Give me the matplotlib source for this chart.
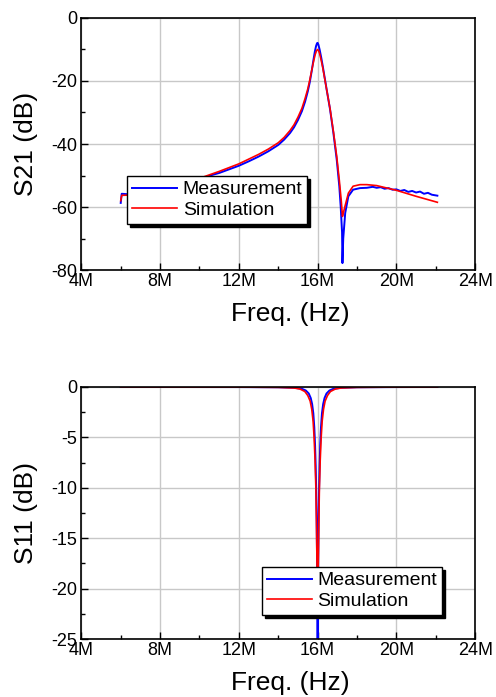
import numpy as np
import matplotlib.pyplot as plt
from matplotlib.ticker import MultipleLocator, FuncFormatter

plt.rcParams['font.family'] = ['Liberation Sans', 'DejaVu Sans']
plt.rcParams['axes.unicode_minus'] = False

# S21 measurement (MHz, dB)
s21_meas_f = [6.0, 6.05, 6.5, 7.0, 8.0, 9.0, 10.0, 10.54, 11.0, 12.0, 12.5, 13.0, 13.5,
              14.0, 14.3, 14.6, 14.8, 15.0, 15.2, 15.36, 15.5, 15.6, 15.7, 15.78,
              15.86, 15.92, 15.97, 16.0, 16.04, 16.1, 16.18, 16.26, 16.46, 16.63,
              16.8, 16.97, 17.1, 17.17, 17.24, 17.26, 17.3, 17.4, 17.56, 17.8, 18.15,
              18.5, 18.8, 19.0, 19.2, 19.4, 19.6, 19.8, 20.0, 20.2, 20.4, 20.6, 20.8,
              21.0, 21.2, 21.4, 21.6, 21.8, 22.08]
s21_meas_db = [-58.7, -55.8, -56.0, -55.6, -54.5, -53.0, -51.3, -50.0, -49.2, -46.9,
               -45.5, -44.0, -42.3, -40.3, -38.6, -36.5, -34.7, -32.4, -29.6, -26.6,
               -23.3, -20.4, -16.8, -13.6, -10.6, -8.9, -8.0, -7.9, -8.5, -10.0,
               -12.5, -15.3, -22.8, -29.0, -36.5, -45.0, -53.4, -59.8, -68.0, -77.8,
               -70.0, -61.9, -56.6, -54.5, -54.0, -53.9, -53.6, -53.9, -53.7, -54.2,
               -54.0, -54.5, -54.4, -54.9, -54.6, -55.2, -54.9, -55.4, -55.1, -55.8,
               -55.5, -56.1, -56.4]

# S21 simulation (MHz, dB)
s21_sim_f = [6.0, 6.05, 6.5, 7.0, 8.0, 9.0, 10.0, 11.0, 12.0, 12.5, 13.0, 13.5, 14.0,
             14.3, 14.6, 14.8, 15.0, 15.2, 15.36, 15.5, 15.6, 15.7, 15.8, 15.88,
             15.95, 16.0, 16.05, 16.1, 16.18, 16.26, 16.46, 16.63, 16.8, 16.97,
             17.1, 17.2, 17.26, 17.32, 17.4, 17.56, 17.8, 18.15, 18.5, 19.0, 20.0,
             21.0, 22.08]
s21_sim_db = [-58.0, -56.3, -56.2, -55.6, -54.3, -52.7, -50.9, -48.7, -46.3, -44.8,
              -43.3, -41.6, -39.6, -37.9, -35.7, -33.9, -31.5, -28.7, -25.6, -22.5,
              -19.7, -16.6, -13.6, -11.5, -10.3, -10.0, -10.4, -11.3, -13.4, -15.8,
              -22.8, -28.8, -36.0, -44.0, -51.5, -58.0, -63.0, -61.5, -59.5, -55.6,
              -53.4, -52.9, -52.9, -53.2, -54.7, -56.6, -58.5]

# S11 measurement (MHz, dB)
s11_meas_f = [6.0, 12.0, 14.0, 14.8, 15.2, 15.4, 15.55, 15.65, 15.72, 15.78, 15.83,
              15.87, 15.9, 15.93, 15.95, 15.97, 15.985, 16.0, 16.015, 16.03, 16.05,
              16.07, 16.1, 16.13, 16.17, 16.22, 16.28, 16.35, 16.45, 16.6, 16.8,
              17.2, 18.0, 20.0, 22.08]
s11_meas_db = [0.0, -0.01, -0.03, -0.08, -0.18, -0.35, -0.65, -1.1, -1.7, -2.6, -4.0,
               -5.8, -7.8, -10.5, -13.0, -17.0, -22.0, -32.0, -22.0, -17.0, -13.0,
               -10.5, -7.8, -5.8, -4.0, -2.6, -1.7, -1.1, -0.65, -0.35, -0.18,
               -0.08, -0.03, -0.01, 0.0]

# S11 simulation (MHz, dB)
s11_sim_f = [6.0, 12.0, 14.0, 14.8, 15.1, 15.35, 15.5, 15.62, 15.7, 15.77, 15.82,
             15.87, 15.91, 15.94, 15.97, 16.0, 16.03, 16.06, 16.09, 16.13, 16.18,
             16.23, 16.3, 16.38, 16.5, 16.65, 16.9, 17.2, 18.0, 20.0, 22.08]
s11_sim_db = [0.0, -0.01, -0.04, -0.1, -0.2, -0.45, -0.85, -1.4, -2.2, -3.4, -5.0,
              -7.3, -10.0, -13.5, -18.0, -22.0, -18.0, -13.5, -10.0, -7.3, -5.0,
              -3.4, -2.2, -1.4, -0.85, -0.45, -0.2, -0.1, -0.04, -0.01, 0.0]

x_ticks = [4, 8, 12, 16, 20, 24]

fig = plt.figure(figsize=(4.96, 6.97), dpi=100)
ax1 = fig.add_axes([0.164, 0.6126, 0.794, 0.3616])
ax2 = fig.add_axes([0.164, 0.0832, 0.794, 0.3616])

def style_axes(ax, ylim, ymajor, yminor, ylabel):
    ax.set_xlim(4e6, 24e6)
    ax.set_ylim(*ylim)
    ax.set_xticks([t * 1e6 for t in x_ticks])
    ax.xaxis.set_minor_locator(MultipleLocator(2e6))
    ax.yaxis.set_major_locator(MultipleLocator(ymajor))
    ax.yaxis.set_minor_locator(MultipleLocator(yminor))
    ax.xaxis.set_major_formatter(FuncFormatter(lambda v, p: f"{v / 1e6:.0f}M"))
    ax.tick_params(which='both', direction='in', top=False, right=False,
                   labelsize=13, width=1)
    ax.tick_params(which='major', length=5, pad=2)
    ax.tick_params(which='minor', length=3)
    ax.tick_params(axis='y', which='major', pad=3)
    ax.grid(True, which='major', color='#c8c8c8', lw=1)
    ax.set_axisbelow(True)
    for s in ax.spines.values():
        s.set_linewidth(1.2)
    ax.set_xlabel('Freq. (Hz)', fontsize=19)
    ax.xaxis.set_label_coords(0.53, -0.125)
    ax.set_ylabel(ylabel, fontsize=19)
    ax.yaxis.set_label_coords(-0.11, 0.5)

ax1.plot(np.array(s21_meas_f) * 1e6, s21_meas_db, color='#0000ff', lw=1.4, label='Measurement')
ax1.plot(np.array(s21_sim_f) * 1e6, s21_sim_db, color='#ff0000', lw=1.2, label='Simulation')
style_axes(ax1, (-80, 0), 20, 10, 'S21 (dB)')

ax2.plot(np.array(s11_meas_f) * 1e6, s11_meas_db, color='#0000ff', lw=1.4, label='Measurement')
ax2.plot(np.array(s11_sim_f) * 1e6, s11_sim_db, color='#ff0000', lw=1.2, label='Simulation')
style_axes(ax2, (-25, 0), 5, 2.5, 'S11 (dB)')

leg_kw = dict(fontsize=14, fancybox=False, framealpha=1, edgecolor='black',
              shadow={'color': 'black', 'alpha': 1}, handlelength=2.3,
              handletextpad=0.3, borderpad=0.25, labelspacing=0.15,
              borderaxespad=0)
l1 = ax1.legend(loc='upper left', bbox_to_anchor=(0.117, 0.373), **leg_kw)
l2 = ax2.legend(loc='upper left', bbox_to_anchor=(0.459, 0.286), **leg_kw)
for l in (l1, l2):
    l.get_frame().set_linewidth(1.0)

fig.savefig('out.png', dpi=100)
